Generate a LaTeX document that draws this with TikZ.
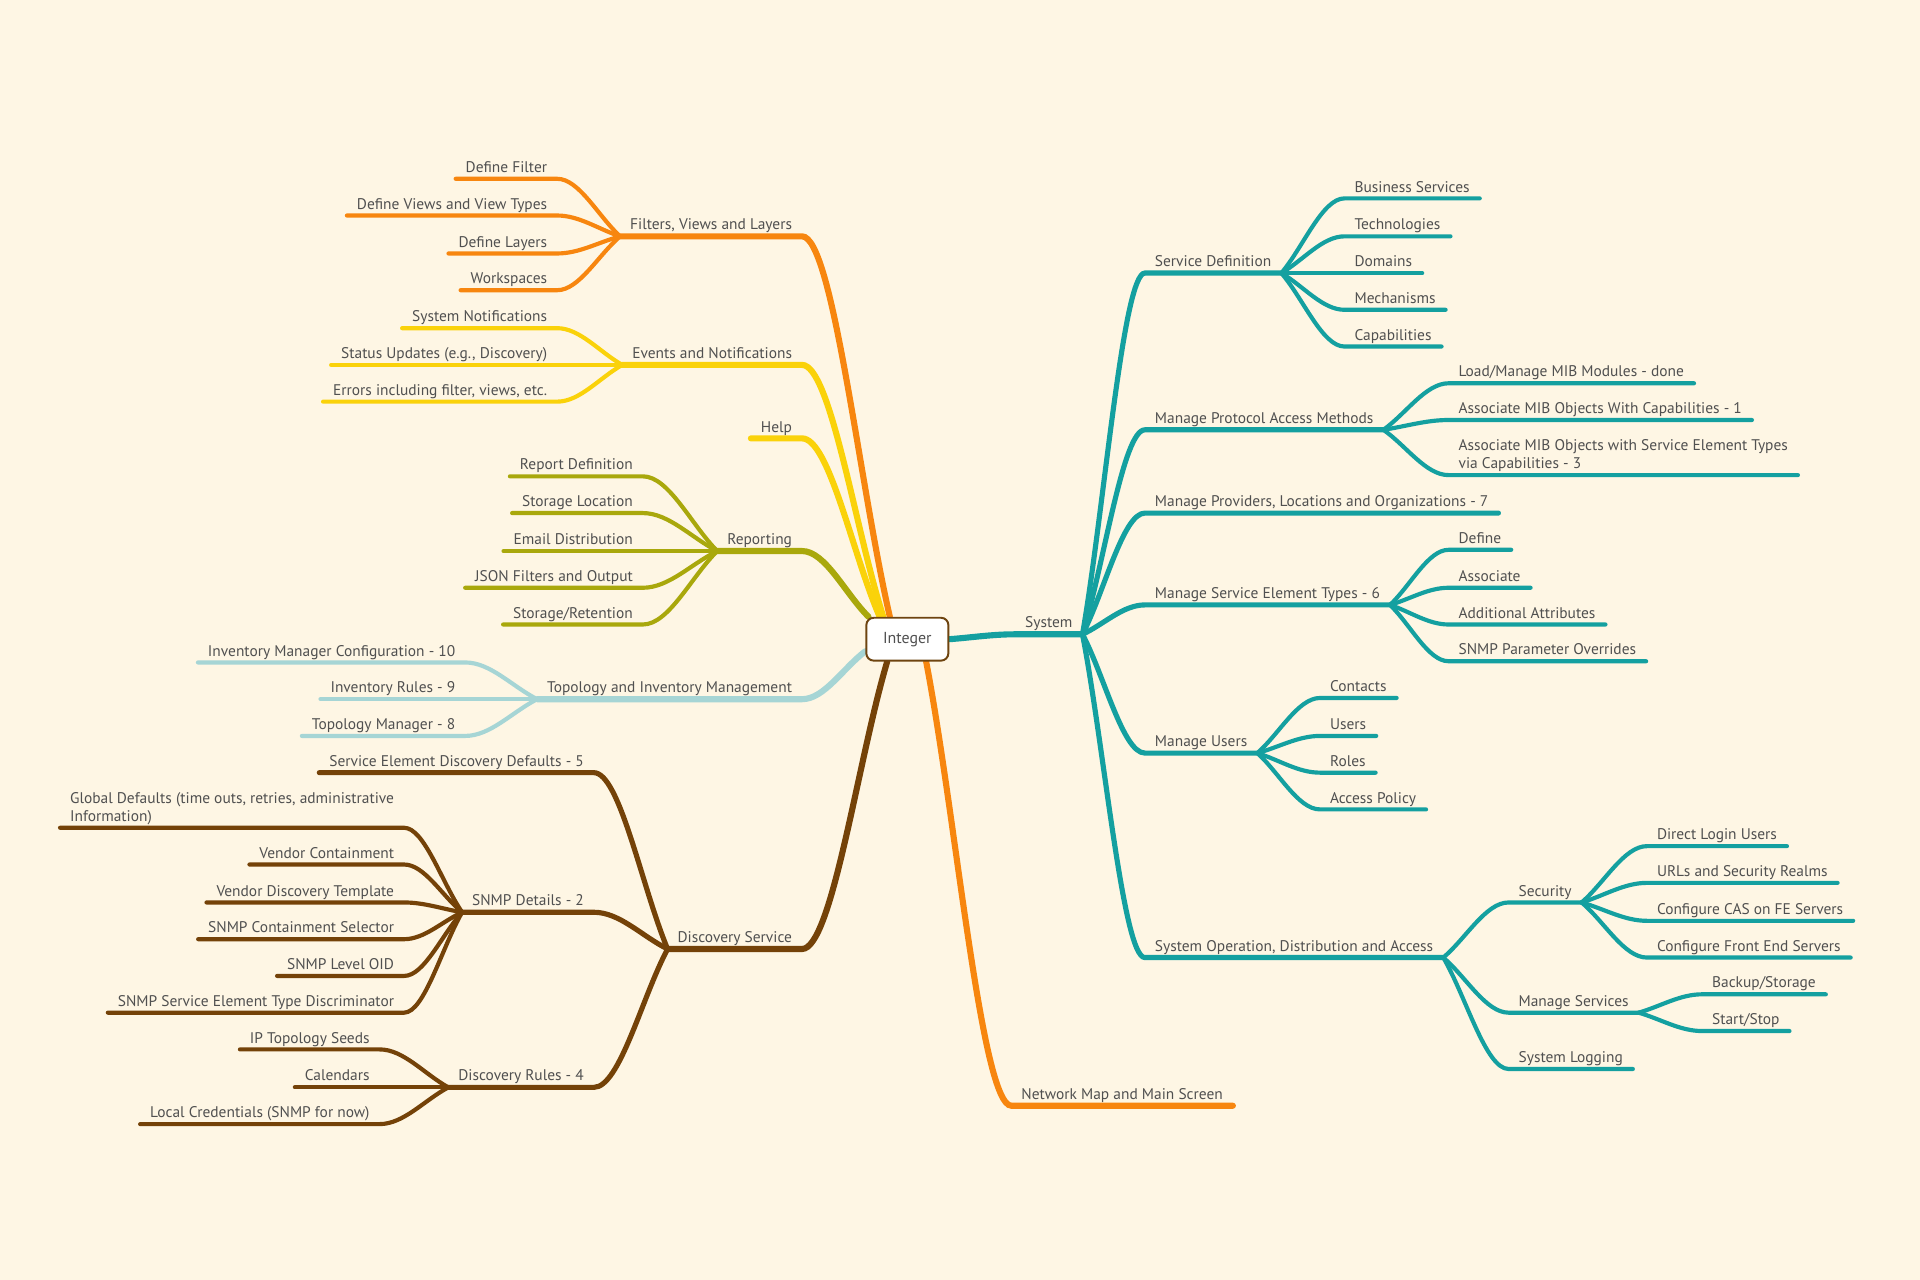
\documentclass[tikz,border=0pt]{standalone}
\usepackage{fontspec}
\setmainfont{PT Sans}
\usetikzlibrary{calc}
\definecolor{bgcream}{RGB}{254,246,228}
\definecolor{mapgray}{RGB}{80,80,80}
\definecolor{sysc}{RGB}{20,160,160}
\definecolor{fvlc}{RGB}{247,134,15}
\definecolor{evnc}{RGB}{250,210,10}
\definecolor{repc}{RGB}{169,168,12}
\definecolor{timc}{RGB}{166,213,213}
\definecolor{discc}{RGB}{116,66,8}
\definecolor{rootc}{RGB}{110,68,16}
\pgfdeclarelayer{bg}
\pgfdeclarelayer{links}
\pgfsetlayers{bg,links,main}
\newcommand{\mapfont}{\fontsize{12.6}{15}\selectfont}

\begin{document}
\begin{tikzpicture}[x=1pt,y=-1pt,
  every node/.style={font=\mapfont,text=mapgray},
  rnode/.style={anchor=south west,inner xsep=8pt,inner ysep=2pt,text depth=3pt,align=left},
  lnode/.style={anchor=south east,inner xsep=8pt,inner ysep=2pt,text depth=3pt,align=left},
  curvy/.style={to path={.. controls ($(\tikztostart)!0.35!(\tikztotarget)$)
      and ($(\tikztotarget)!0.35!(\tikztostart |- \tikztotarget)$) .. (\tikztotarget)}},
  trunk/.style={line width=5pt,line cap=round},
  bough/.style={line width=4.2pt,line cap=round},
  twig/.style={line width=3.4pt,line cap=round}]

  \begin{pgfonlayer}{bg}
    \fill[bgcream] (0,0) rectangle (1568,1045);
  \end{pgfonlayer}

  \node[draw=rootc,line width=1.6pt,fill=white,rounded corners=6pt,
    minimum width=67pt,minimum height=35pt,font=\fontsize{13}{15}\selectfont] (root) at (741,522) {Integer};

  % right hand side
  \node[rnode] (sys) at (829,518) {System};
  \node[rnode] (sd) at (935,223) {Service Definition};
  \node[rnode] (bs) at (1098,162) {Business Services};
  \node[rnode] (tech) at (1098,193) {Technologies};
  \node[rnode] (dom) at (1098,223) {Domains};
  \node[rnode] (mech) at (1098,253) {Mechanisms};
  \node[rnode] (cap) at (1098,283) {Capabilities};
  \node[rnode] (mpam) at (935,351) {Manage Protocol Access Methods};
  \node[rnode] (mib) at (1183,313) {Load/Manage MIB Modules - done};
  \node[rnode] (amoc) at (1183,343) {Associate MIB Objects With Capabilities - 1};
  \node[rnode] (amos) at (1183,388) {Associate MIB Objects with Service Element Types\\via Capabilities - 3};
  \node[rnode] (mplo) at (935,419) {Manage Providers, Locations and Organizations - 7};
  \node[rnode] (mset) at (935,494) {Manage Service Element Types - 6};
  \node[rnode] (sdef) at (1183,449) {Define};
  \node[rnode] (sassoc) at (1183,480) {Associate};
  \node[rnode] (addattr) at (1183,510) {Additional Attributes};
  \node[rnode] (snmpov) at (1183,540) {SNMP Parameter Overrides};
  \node[rnode] (musers) at (935,615) {Manage Users};
  \node[rnode] (cont) at (1078,570) {Contacts};
  \node[rnode] (usr) at (1078,601) {Users};
  \node[rnode] (roles) at (1078,631) {Roles};
  \node[rnode] (apol) at (1078,661) {Access Policy};
  \node[rnode] (sysop) at (935,782) {System Operation, Distribution and Access};
  \node[rnode] (sec) at (1232,737) {Security};
  \node[rnode] (dlu) at (1345,691) {Direct Login Users};
  \node[rnode] (urls) at (1345,721) {URLs and Security Realms};
  \node[rnode] (cas) at (1345,752) {Configure CAS on FE Servers};
  \node[rnode] (cfe) at (1345,782) {Configure Front End Servers};
  \node[rnode] (msvc) at (1232,827) {Manage Services};
  \node[rnode] (backup) at (1390,812) {Backup/Storage};
  \node[rnode] (startstop) at (1390,842) {Start/Stop};
  \node[rnode] (slog) at (1232,873) {System Logging};
  \node[rnode] (netmap) at (826,903) {Network Map and Main Screen};

  % left hand side
  \node[lnode] (fvl) at (655,193) {Filters, Views and Layers};
  \node[lnode] (dfilter) at (455,146) {Define Filter};
  \node[lnode] (dviews) at (455,176) {Define Views and View Types};
  \node[lnode] (dlayers) at (455,207) {Define Layers};
  \node[lnode] (wsp) at (455,237) {Workspaces};
  \node[lnode] (evn) at (655,298) {Events and Notifications};
  \node[lnode] (sysnot) at (455,268) {System Notifications};
  \node[lnode] (status) at (455,298) {Status Updates (e.g., Discovery)};
  \node[lnode] (errors) at (455,328) {Errors including filter, views, etc.};
  \node[lnode] (help) at (655,358) {Help};
  \node[lnode] (rep) at (655,450) {Reporting};
  \node[lnode] (rdef) at (525,389) {Report Definition};
  \node[lnode] (sloc) at (525,419) {Storage Location};
  \node[lnode] (email) at (525,450) {Email Distribution};
  \node[lnode] (json) at (525,480) {JSON Filters and Output};
  \node[lnode] (sret) at (525,510) {Storage/Retention};
  \node[lnode] (tim) at (655,571) {Topology and Inventory Management};
  \node[lnode] (imc) at (380,541) {Inventory Manager Configuration - 10};
  \node[lnode] (irules) at (380,571) {Inventory Rules - 9};
  \node[lnode] (tman) at (380,601) {Topology Manager - 8};
  \node[lnode] (disc) at (655,775) {Discovery Service};
  \node[lnode] (sedd) at (485,631) {Service Element Discovery Defaults - 5};
  \node[lnode] (snmp) at (485,745) {SNMP Details - 2};
  \node[lnode] (gdef) at (330,676) {Global Defaults (time outs, retries, administrative\\Information)};
  \node[lnode] (vcont) at (330,706) {Vendor Containment};
  \node[lnode] (vdt) at (330,737) {Vendor Discovery Template};
  \node[lnode] (scs) at (330,767) {SNMP Containment Selector};
  \node[lnode] (slo) at (330,797) {SNMP Level OID};
  \node[lnode] (sset) at (330,827) {SNMP Service Element Type Discriminator};
  \node[lnode] (drules) at (485,888) {Discovery Rules - 4};
  \node[lnode] (ipts) at (310,857) {IP Topology Seeds};
  \node[lnode] (cal) at (310,888) {Calendars};
  \node[lnode] (lcred) at (310,918) {Local Credentials (SNMP for now)};

  \begin{pgfonlayer}{links}
    % System
    \draw[trunk,sysc] (root.east) to[curvy] (sys.south west) -- (sys.south east);
    \foreach \n in {sd,mpam,mplo,mset,musers,sysop}
      \draw[bough,sysc] (sys.south east) to[curvy] (\n.south west) -- (\n.south east);
    \foreach \n in {bs,tech,dom,mech,cap}
      \draw[twig,sysc] (sd.south east) to[curvy] (\n.south west) -- (\n.south east);
    \foreach \n in {mib,amoc,amos}
      \draw[twig,sysc] (mpam.south east) to[curvy] (\n.south west) -- (\n.south east);
    \foreach \n in {sdef,sassoc,addattr,snmpov}
      \draw[twig,sysc] (mset.south east) to[curvy] (\n.south west) -- (\n.south east);
    \foreach \n in {cont,usr,roles,apol}
      \draw[twig,sysc] (musers.south east) to[curvy] (\n.south west) -- (\n.south east);
    \foreach \n in {sec,msvc,slog}
      \draw[twig,sysc] (sysop.south east) to[curvy] (\n.south west) -- (\n.south east);
    \foreach \n in {dlu,urls,cas,cfe}
      \draw[twig,sysc] (sec.south east) to[curvy] (\n.south west) -- (\n.south east);
    \foreach \n in {backup,startstop}
      \draw[twig,sysc] (msvc.south east) to[curvy] (\n.south west) -- (\n.south east);
    \draw[trunk,fvlc] (root.310) to[curvy] (netmap.south west) -- (netmap.south east);

    % Filters, Events, Help, Reporting
    \draw[trunk,fvlc] (root.128) to[curvy] (fvl.south east) -- (fvl.south west);
    \foreach \n in {dfilter,dviews,dlayers,wsp}
      \draw[twig,fvlc] (fvl.south west) to[curvy] (\n.south east) -- (\n.south west);
    \draw[trunk,evnc] (root.137) to[curvy] (evn.south east) -- (evn.south west);
    \foreach \n in {sysnot,status,errors}
      \draw[twig,evnc] (evn.south west) to[curvy] (\n.south east) -- (\n.south west);
    \draw[trunk,evnc] (root.141) to[curvy] (help.south east) -- (help.south west);
    \draw[trunk,repc] (root.150) to[curvy] (rep.south east) -- (rep.south west);
    \foreach \n in {rdef,sloc,email,json,sret}
      \draw[twig,repc] (rep.south west) to[curvy] (\n.south east) -- (\n.south west);

    % Topology and Discovery
    \draw[trunk,timc] (root.196) to[curvy] (tim.south east) -- (tim.south west);
    \foreach \n in {imc,irules,tman}
      \draw[twig,timc] (tim.south west) to[curvy] (\n.south east) -- (\n.south west);
    \draw[trunk,discc] (root.228) to[curvy] (disc.south east) -- (disc.south west);
    \foreach \n in {sedd,snmp,drules}
      \draw[bough,discc] (disc.south west) to[curvy] (\n.south east) -- (\n.south west);
    \foreach \n in {gdef,vcont,vdt,scs,slo,sset}
      \draw[twig,discc] (snmp.south west) to[curvy] (\n.south east) -- (\n.south west);
    \foreach \n in {ipts,cal,lcred}
      \draw[twig,discc] (drules.south west) to[curvy] (\n.south east) -- (\n.south west);
  \end{pgfonlayer}

\end{tikzpicture}
\end{document}
